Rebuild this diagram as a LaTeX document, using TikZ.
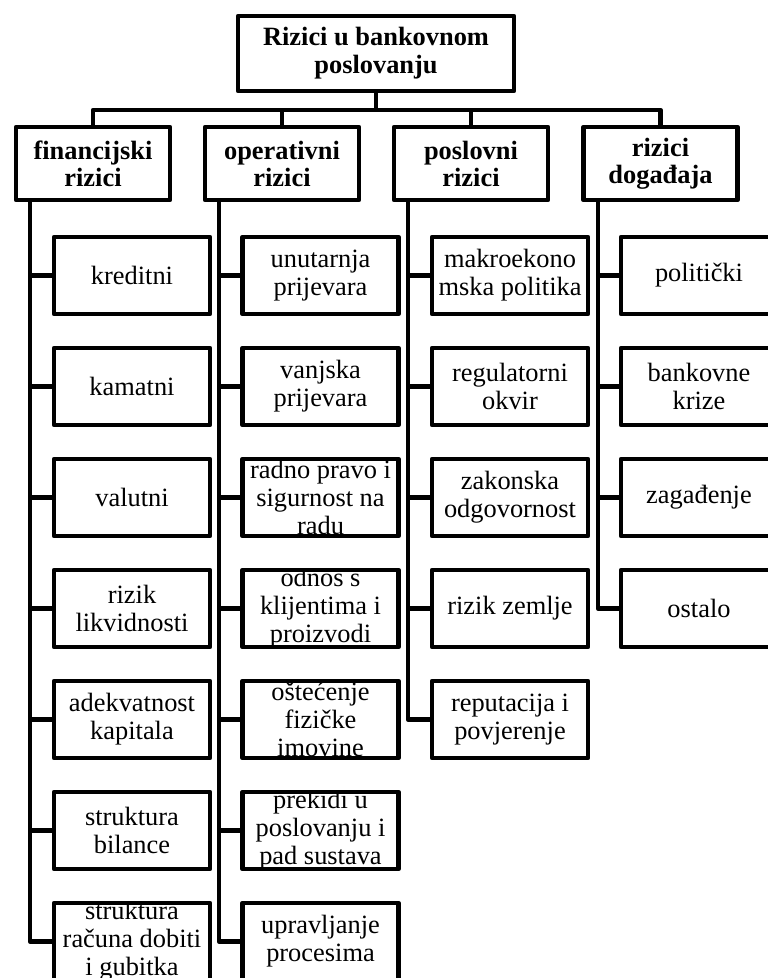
\documentclass[tikz,border=0pt]{standalone}
\usepackage{fontspec}
\setmainfont{Liberation Serif}
\tikzset{
  every picture/.style={x=1pt,y=-1pt},
  boxline/.style={draw=black,line width=4.4pt,line join=round},
  rootbox/.style={boxline,minimum width=276pt,minimum height=75pt,inner sep=0pt,align=center,
    font=\fontsize{26.4pt}{28pt}\selectfont\bfseries},
  catbox/.style={boxline,minimum width=154pt,minimum height=73pt,inner sep=0pt,align=center,
    font=\fontsize{26.4pt}{27pt}\selectfont\bfseries},
  leafbox/.style={boxline,minimum width=156pt,minimum height=77pt,inner sep=0pt},
  leaftext/.style={inner sep=0pt,align=center,font=\fontsize{26.4pt}{28pt}\selectfont},
  conn/.style={draw=black,line width=4.4pt,line join=round}
}
\newcommand\leafnode[4]{%
  \node[leafbox] (#1) at (#2,#3) {};
  \begin{scope}
    \clip ([shift={(2pt,-2pt)}]#1.north west) rectangle ([shift={(-2pt,2pt)}]#1.south east);
    \node[leaftext] (#1t) at (#1.center) {#4};
  \end{scope}
}
\begin{document}
\begin{tikzpicture}
\useasboundingbox (0,0) rectangle (768,978);
\clip (0,0) rectangle (768,978);
\fill[white] (0,0) rectangle (768,978);

% root and categories
\node[rootbox] (root) at (376,53.5) {Rizici u bankovnom\\poslovanju};
\node[catbox] (f) at (93,163.5) {financijski\\rizici};
\node[catbox] (o) at (282,163.5) {operativni\\rizici};
\node[catbox] (p) at (471,163.5) {poslovni\\rizici};
\node[catbox] (d) at (660.5,163.5) {rizici\\događaja};

\coordinate (busL) at (93,110);
\draw[conn] (f.north) -- (busL) -| (d.north);
\draw[conn] (root.south) -- (root.south |- busL);
\draw[conn] (o.north) -- (o.north |- busL);
\draw[conn] (p.north) -- (p.north |- busL);

% column 1
\leafnode{a1}{132}{275.5}{kreditni}
\leafnode{a2}{132}{386.5}{kamatni}
\leafnode{a3}{132}{497.5}{valutni}
\leafnode{a4}{132}{608.5}{rizik\\likvidnosti}
\leafnode{a5}{132}{719.5}{adekvatnost\\kapitala}
\leafnode{a6}{132}{830.5}{struktura\\bilance}
\leafnode{a7}{132}{941.5}{struktura\\računa dobiti\\i gubitka}

% column 2
\leafnode{b1}{320.5}{275.5}{unutarnja\\prijevara}
\leafnode{b2}{320.5}{386.5}{vanjska\\prijevara}
\leafnode{b3}{320.5}{497.5}{radno pravo i\\sigurnost na\\radu}
\leafnode{b4}{320.5}{608.5}{odnos s\\klijentima i\\proizvodi}
\leafnode{b5}{320.5}{719.5}{oštećenje\\fizičke\\imovine}
\leafnode{b6}{320.5}{830.5}{prekidi u\\poslovanju i\\pad sustava}
\leafnode{b7}{320.5}{941.5}{upravljanje\\procesima}

% column 3
\leafnode{c1}{510}{275.5}{makroekono\\mska politika}
\leafnode{c2}{510}{386.5}{regulatorni\\okvir}
\leafnode{c3}{510}{497.5}{zakonska\\odgovornost}
\leafnode{c4}{510}{608.5}{rizik zemlje}
\leafnode{c5}{510}{719.5}{reputacija i\\povjerenje}

% column 4
\leafnode{e1}{699}{275.5}{politički}
\leafnode{e2}{699}{386.5}{bankovne\\krize}
\leafnode{e3}{699}{497.5}{zagađenje}
\leafnode{e4}{699}{608.5}{ostalo}

% trunks
\coordinate (tf) at (30,200);
\coordinate (to) at (219,200);
\coordinate (tp) at (408,200);
\coordinate (td) at (598,200);
\draw[conn] (tf) |- (a7.west);
\draw[conn] (to) |- (b7.west);
\draw[conn] (tp) |- (c5.west);
\draw[conn] (td) |- (e4.west);

\foreach \n in {a1,a2,a3,a4,a5,a6}{\draw[conn] (\n.west) -- (\n.west -| tf);}
\foreach \n in {b1,b2,b3,b4,b5,b6}{\draw[conn] (\n.west) -- (\n.west -| to);}
\foreach \n in {c1,c2,c3,c4}{\draw[conn] (\n.west) -- (\n.west -| tp);}
\foreach \n in {e1,e2,e3}{\draw[conn] (\n.west) -- (\n.west -| td);}
\end{tikzpicture}
\end{document}
